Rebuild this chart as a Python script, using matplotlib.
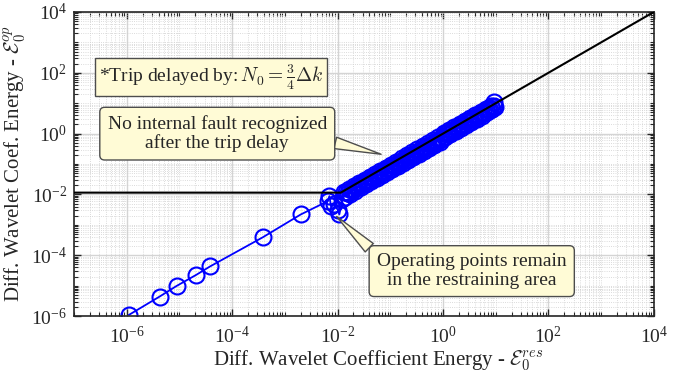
import numpy as np
import matplotlib.pyplot as plt
from matplotlib.ticker import LogLocator, FixedLocator, NullFormatter

plt.rcParams['font.family'] = ['Liberation Serif', 'DejaVu Serif']
plt.rcParams['mathtext.fontset'] = 'stix'

# low-energy start of the trajectory and the cluster around 1e-2
start_res = [1.1e-6, 4.2e-6, 8.8e-6, 2.1e-5, 3.8e-5, 3.8e-4, 2.0e-3,
             6.5e-3, 7.0e-3, 7.5e-3, 8.6e-3, 1.0e-2, 1.08e-2, 1.23e-2]
start_op = [1.1e-6, 4.4e-6, 9.8e-6, 2.3e-5, 4.3e-5, 3.9e-4, 2.2e-3,
            6.0e-3, 8.8e-3, 4.1e-3, 4.7e-3, 3.2e-3, 2.2e-3, 6.9e-3]

# dense band of operating points after the trip delay
band_res = [0.0130, 0.0138, 0.0146, 0.0155, 0.0164, 0.0173, 0.0184, 0.0195,
            0.0206, 0.0218, 0.0231, 0.0245, 0.0259, 0.0275, 0.0291, 0.0308,
            0.0327, 0.0346, 0.0366, 0.0388, 0.0411, 0.0436, 0.0461, 0.0489,
            0.0518, 0.0548, 0.0581, 0.0615, 0.0652, 0.0690, 0.0731, 0.0775,
            0.0820, 0.0869, 0.0920, 0.0975,
            0.103, 0.109, 0.116, 0.123, 0.130, 0.138, 0.146, 0.155,
            0.164, 0.173, 0.184, 0.195, 0.206, 0.218, 0.231, 0.245,
            0.259, 0.275, 0.291, 0.308, 0.327, 0.346, 0.366, 0.388,
            0.411, 0.436, 0.461, 0.489, 0.518, 0.548, 0.581, 0.615,
            0.652, 0.690, 0.731, 0.775, 0.820, 0.869, 0.920, 0.975,
            1.03, 1.09, 1.16, 1.23, 1.30, 1.38, 1.46, 1.55,
            1.64, 1.73, 1.84, 1.95, 2.06, 2.18, 2.31, 2.45,
            2.59, 2.75, 2.91, 3.08, 3.27, 3.46, 3.66, 3.88,
            4.11, 4.36, 4.61, 4.89, 5.18, 5.48, 5.81, 6.15,
            6.52, 6.90, 7.31, 7.75, 8.20, 8.69, 9.20, 9.75, 9.50]
band_op = [0.0121, 0.00856, 0.0117, 0.0109, 0.0153, 0.0107, 0.0147, 0.0137,
           0.0192, 0.0135, 0.0185, 0.0172, 0.0241, 0.0171, 0.0233, 0.0216,
           0.0304, 0.0215, 0.0293, 0.0272, 0.0382, 0.0270, 0.0369, 0.0342,
           0.0482, 0.0340, 0.0465, 0.0431, 0.0606, 0.0428, 0.0585, 0.0543,
           0.0763, 0.0539, 0.0736, 0.0683,
           0.0958, 0.0676, 0.0928, 0.0861, 0.121, 0.0856, 0.117, 0.109,
           0.153, 0.107, 0.147, 0.137, 0.192, 0.135, 0.185, 0.172,
           0.241, 0.171, 0.233, 0.216, 0.304, 0.215, 0.293, 0.272,
           0.382, 0.270, 0.369, 0.342, 0.482, 0.340, 0.465, 0.431,
           0.606, 0.428, 0.585, 0.543, 0.763, 0.539, 0.736, 0.683,
           1.03, 0.785, 1.02, 0.984, 1.30, 0.994, 1.28, 1.24,
           1.64, 1.25, 1.62, 1.56, 2.06, 1.57, 2.03, 1.96,
           2.59, 1.98, 2.56, 2.46, 3.27, 2.49, 3.22, 3.10,
           4.11, 3.14, 4.06, 3.91, 5.18, 3.95, 5.11, 4.92,
           6.52, 4.97, 6.43, 6.20, 8.20, 6.26, 8.10, 7.80, 11.0]

# tripping characteristic: flat threshold, then unity slope
char_x = [1e-7, 1.15e-2, 1e4]
char_y = [1.15e-2, 1.15e-2, 1e4]

fig = plt.figure(figsize=(6.86, 3.75), dpi=100)
ax = fig.add_axes([0.108, 0.157, 0.845, 0.811])

ax.plot(char_x, char_y, color='black', lw=1.5, zorder=3)
ax.plot(start_res + band_res, start_op + band_op, '-o', color='blue',
        lw=1.3, ms=11.5, mfc='none', mew=1.5, zorder=2)

ax.set_xscale('log')
ax.set_yscale('log')
ax.set_xlim(1e-7, 1e4)
ax.set_ylim(1e-6, 1e4)

ax.xaxis.set_major_locator(FixedLocator([10.0 ** k for k in range(-6, 5, 2)]))
ax.yaxis.set_major_locator(FixedLocator([10.0 ** k for k in range(-6, 5, 2)]))
for a in (ax.xaxis, ax.yaxis):
    a.set_minor_locator(LogLocator(base=10, subs=np.arange(1, 10), numticks=30))
    a.set_minor_formatter(NullFormatter())

axcol = '#262626'
ax.tick_params(which='both', direction='in', top=True, right=True,
               colors=axcol, labelcolor=axcol, labelsize=14)
ax.tick_params(which='major', length=5, width=1)
ax.tick_params(which='minor', length=3, width=0.8)
ax.tick_params(axis='x', which='major', pad=7)
ax.tick_params(axis='y', which='major', pad=5)
for s in ax.spines.values():
    s.set_color(axcol)
    s.set_linewidth(1.2)

ax.grid(which='major', color='#d4d4d4', lw=1.0, zorder=0)
ax.grid(which='minor', color='#cfcfcf', lw=0.6, ls=':', zorder=0)
ax.set_axisbelow(True)

ax.set_xlabel(r'Diff. Wavelet Coefficient Energy - $\mathcal{E}_0^{res}$',
              fontsize=15, color=axcol, labelpad=0, math_fontfamily='cm')
ax.xaxis.set_label_coords(0.524, -0.108)
ax.set_ylabel(r'Diff. Wavelet Coef. Energy - $\mathcal{E}_0^{op}$',
              fontsize=15, color=axcol, labelpad=2, math_fontfamily='cm')

box_fc = '#fffbd6'
box_ec = '#4d4d4d'

ax.text(0.236, 0.787, r'*Trip delayed by:$\,N_0 = \frac{3}{4}\Delta k$',
        transform=ax.transAxes, ha='center', va='center', fontsize=14,
        color=axcol, zorder=5, math_fontfamily='cm',
        bbox=dict(boxstyle='square,pad=0.2', fc=box_fc, ec=box_ec, lw=1))

ax.annotate('No internal fault recognized\nafter the trip delay',
            xy=(0.067, 0.21), xycoords='data',
            xytext=(0.247, 0.6), textcoords='axes fraction',
            ha='center', va='center', fontsize=14, color=axcol,
            linespacing=1.1, zorder=5,
            bbox=dict(boxstyle='round,pad=0.4,rounding_size=0.25',
                      fc=box_fc, ec=box_ec, lw=1),
            arrowprops=dict(arrowstyle='wedge,tail_width=0.6', fc=box_fc,
                            ec=box_ec, lw=1, shrinkA=0, shrinkB=0,
                            relpos=(0.97, 0.35)))

ax.annotate('Operating points remain\nin the restraining area',
            xy=(9.6e-3, 1.9e-3), xycoords='data',
            xytext=(0.686, 0.148), textcoords='axes fraction',
            ha='center', va='center', fontsize=14, color=axcol,
            linespacing=1.1, zorder=5,
            bbox=dict(boxstyle='round,pad=0.4,rounding_size=0.25',
                      fc=box_fc, ec=box_ec, lw=1),
            arrowprops=dict(arrowstyle='wedge,tail_width=0.6', fc=box_fc,
                            ec=box_ec, lw=1, shrinkA=0, shrinkB=0,
                            relpos=(0.03, 0.8)))

fig.savefig('out.png', dpi=100)
